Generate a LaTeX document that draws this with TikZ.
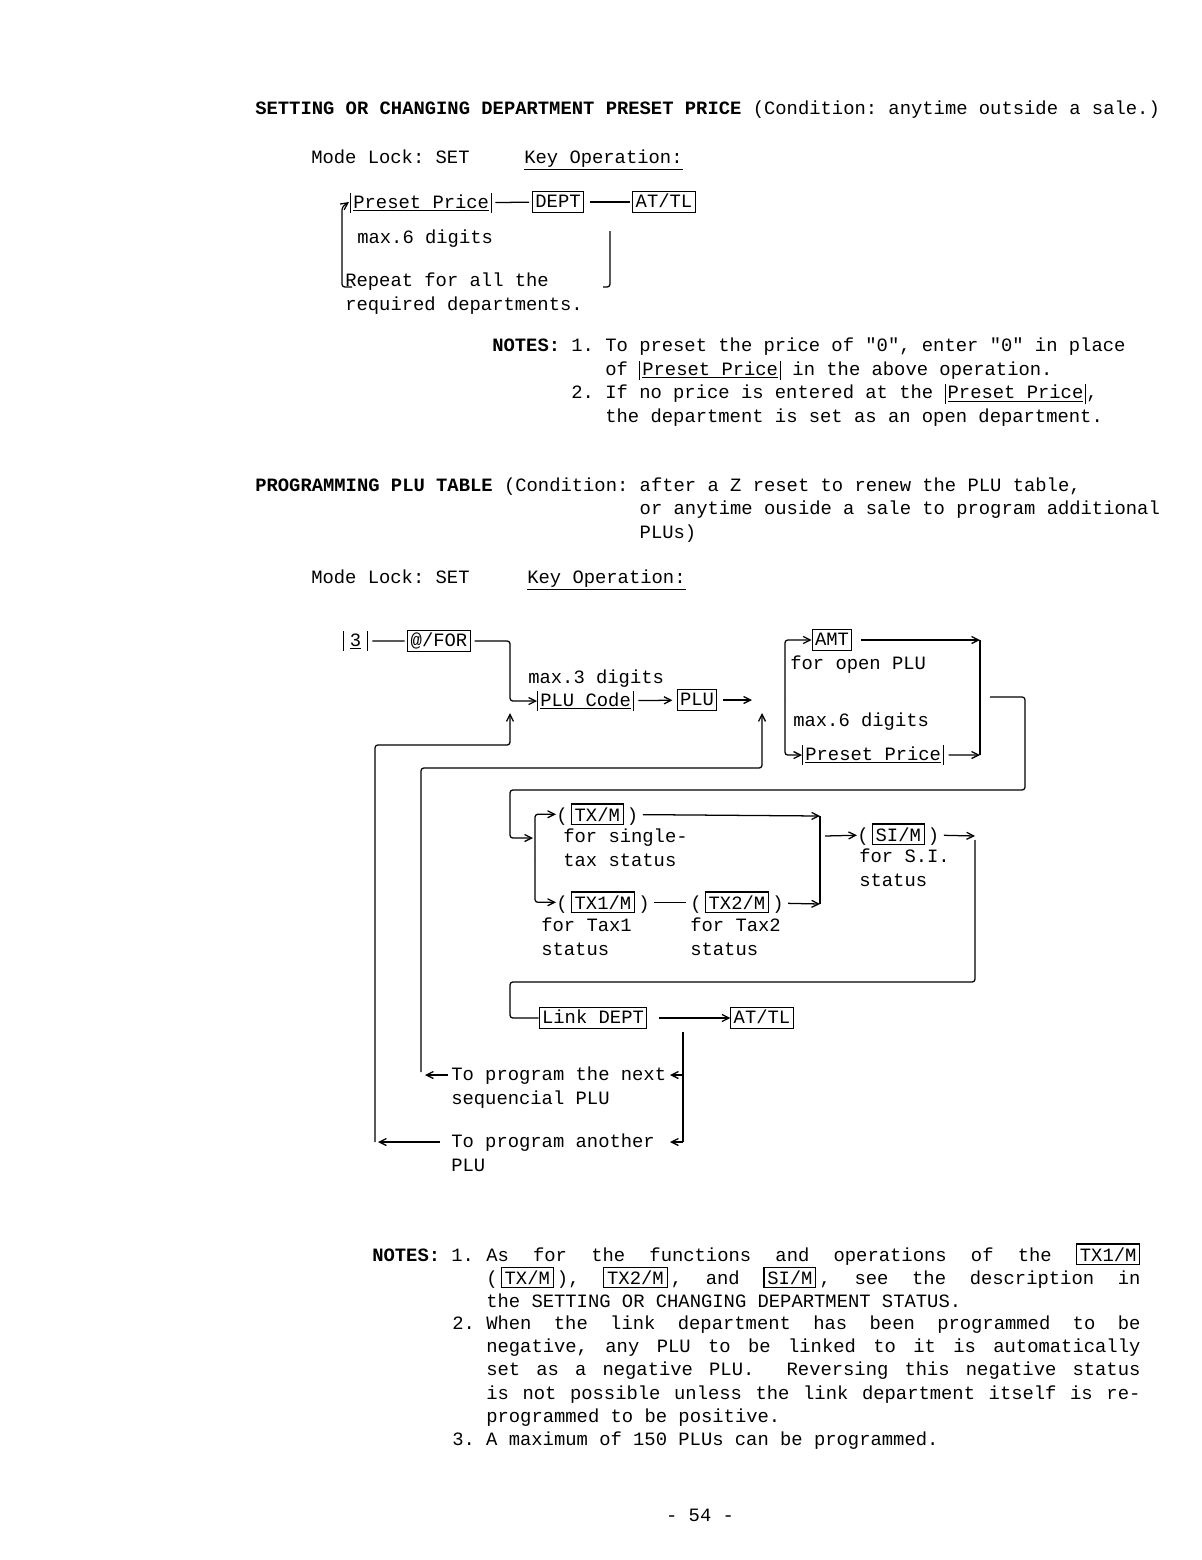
\documentclass[tikz,border=0pt]{standalone}
\usepackage{fontspec}
\setmainfont{Liberation Mono}[Ligatures=TeXOff]
\setmonofont{Liberation Mono}
\usetikzlibrary{arrows.meta,calc,positioning}
\newcommand{\numbar}{\vrule width .7pt height 10.5pt depth 3.5pt\relax}
\newcommand{\numin}[1]{\numbar\kern1.5pt\underline{#1}\kern1.5pt\numbar}
\newcommand{\keyin}[1]{{\fboxsep=2pt\fboxrule=.8pt\fbox{\vphantom{A/}#1}}}
\frenchspacing
\tikzset {
  >={Straight Barb[length=5pt,width=5pt]},
  every node/.style={font=\fontsize{13.4}{16.6}\selectfont, inner sep=0pt},
  key/.style={draw, line width=.8pt, inner xsep=2pt, inner ysep=2pt, text height=9.5pt, text depth=1.5pt},
  txt/.style={anchor=base west, align=left},
  para/.style={anchor=base west, text width=16.35cm, align=justify},
  wire/.style={line width=.9pt, rounded corners=2pt},
}

\begin{document}
\begin{tikzpicture}[x=0.025cm,y=-0.025cm]
          \useasboundingbox (0,0) rectangle (1202,1560);
          % preset price
          \node (title1) at (255,114)[txt]{\textbf{SETTING OR CHANGING DEPARTMENT PRESET PRICE} (Condition: anytime outside a sale.)};
          \node (mode1) at (311,163)[txt]{Mode Lock: SET};
          \node (keyop1) at (524,163)[txt]{\underline{Key Operation:}};
          \node (pp1) at (350,208)[txt]{\numin{Preset Price}};
          \node (dept1) at (558,202)[key]{DEPT};
          \node (attl1) at (664,202)[key]{AT/TL};
          \node (max6a) at (357,243)[txt]{max.6 digits};
          \node (repeat) at (345,310)[txt]{Repeat for all the\\required departments.};
          \coordinate (pp1in) at (349,202);
          \draw[wire,shorten <=2pt,shorten >=2pt] (pp1) -- (dept1);
          \draw[wire,shorten <=4pt,shorten >=2pt] (dept1) -- (attl1);
          \draw[wire,->] (352,287) -- (342,287) -- (342,207) -- (pp1in);
          \draw[wire] (610,231) -- (610,287) -- (603,287);
          \node (notes1) at (492,422)[txt]{\textbf{NOTES:} 1. To preset the price of "0", enter "0" in place\\\phantom{NOTES: 1. }of \numin{Preset Price} in the above operation.\\\phantom{NOTES: }2. If no price is entered at the \numin{Preset Price},\\\phantom{NOTES: 2. }the department is set as an open department.};
          % plu table
          \node (title2) at (255,538)[txt]{\textbf{PROGRAMMING PLU TABLE} (Condition: after a Z reset to renew the PLU table,\\\phantom{PROGRAMMING PLU TABLE (Condition: }or anytime ouside a sale to program additional\\\phantom{PROGRAMMING PLU TABLE (Condition: }PLUs)};
          \node (mode2) at (311,583)[txt]{Mode Lock: SET};
          \node (keyop2) at (527,583)[txt]{\underline{Key Operation:}};
          \node (three) at (343,646)[txt]{\numbar\kern4pt\underline{3}\kern4pt\numbar};
          \node (atfor) at (439,641)[key]{@/FOR};
          \node (max3) at (528,683)[txt]{max.3 digits};
          \node (plucode) at (537,706)[txt]{\numin{PLU Code}};
          \node (plukey) at (697,700)[key]{PLU};
          \coordinate (pluout) at (752,700);
          \draw[wire,shorten <=3pt,shorten >=2pt] (three) -- (atfor);
          \draw[wire,->] (atfor.east) ++(4,0) -- (510,641) -- (510,701) -- (plucode.west);
          \draw[wire,->,shorten <=3pt,shorten >=3pt] (plucode) -- (plukey);
          \draw[wire,->,shorten <=4pt] (plukey) -- (pluout);
          % amt or preset price
          \node (amt) at (832,640)[key]{AMT};
          \node (openplu) at (790,669)[txt]{for open PLU};
          \node (max6b) at (793,726)[txt]{max.6 digits};
          \node (pp2) at (802,760)[txt]{\numin{Preset Price}};
          \coordinate (split) at (785,700);
          \coordinate (amtend) at (980,640);
          \coordinate (ppend) at (980,755);
          \draw[wire,->] (split) |- (amt);
          \draw[wire,->] (split) |- (pp2);
          \draw[wire,->,shorten <=6pt] (amt) -- (amtend);
          \draw[wire,->,shorten <=3pt] (pp2) -- (ppend);
          \draw[wire] (amtend) -- (ppend);
          \coordinate (taxin) at (533,838);
          \draw[wire,->] (990,697) -- (1025,697) -- (1025,790) -- (510,790) -- (510,838) -- (taxin);
          % tax status
          \node (txm) at (556,821)[txt]{(\,\keyin{TX/M}\,)};
          \node (single) at (563,866)[txt]{for single-\\tax status};
          \node (tx1) at (556,909)[txt]{(\,\keyin{TX1/M}\,)};
          \node (tx2) at (690,909)[txt]{(\,\keyin{TX2/M}\,)};
          \node (taxone) at (541,955)[txt]{for Tax1\\status};
          \node (taxtwo) at (690,955)[txt]{for Tax2\\status};
          \coordinate (taxsplit) at (535,860);
          \coordinate (taxtop) at (820,816);
          \coordinate (taxbot) at (820,904);
          \draw[wire,->] (taxsplit) |- (txm);
          \draw[wire,->] (taxsplit) |- (tx1);
          \draw[wire,shorten <=3pt,shorten >=3pt] (tx1) -- (tx2);
          \draw[wire,->,shorten <=3pt] (txm) -- (taxtop);
          \draw[wire,->,shorten <=3pt] (tx2) -- (taxbot);
          \draw[wire] (taxtop) -- (taxbot);
          \node (si) at (857,841)[txt]{(\,\keyin{SI/M}\,)};
          \node (sitext) at (859,886)[txt]{for S.I.\\status};
          \coordinate (sifrom) at (825,836);
          \coordinate (siend) at (975,836);
          \draw[wire,->] (sifrom) -- (si);
          \draw[wire,->,shorten <=3pt] (si) -- (siend);
          % link dept
          \node (link) at (593,1018)[key]{Link DEPT};
          \node (attl2) at (762,1018)[key]{AT/TL};
          \draw[wire] (975,840) -- (975,982) -- (510,982) -- (510,1018) -- (link);
          \draw[wire,->,shorten <=8pt] (link) -- (attl2);
          \node (next) at (451,1104)[txt]{To program the next\\sequencial PLU};
          \node (another) at (451,1171)[txt]{To program another\\PLU};
          \coordinate (nextr) at (683,1075);
          \coordinate (anotherr) at (683,1142);
          \draw[wire] (683,1032) -- (anotherr);
          \draw[wire,->] (nextr) -- (670,1075);
          \draw[wire,->] (anotherr) -- (670,1142);
          \draw[wire,->] (448,1075) -- (425,1075);
          \draw[wire,->] (421,1072) -- (421,768) -- (762,768) -- (762,713);
          \draw[wire,->] (440,1142) -- (378,1142);
          \draw[wire,->] (375,1142) -- (375,745) -- (510,745) -- (510,713);
          % notes
          \node (notes2) at (372,1261)[txt]{\textbf{NOTES:} 1.};
          \node (noteone) at (486,1261)[para]{\spaceskip=.6em plus 3em
            As for the functions and operations of the \keyin{TX1/M}\linebreak
            (\,\keyin{TX/M}\,), \keyin{TX2/M}\,, and \keyin{SI/M}\,, see the description in\linebreak
            the SETTING OR CHANGING DEPARTMENT STATUS.};
          \node (num2) at (452,1329)[txt]{2.};
          \node (notetwo) at (486,1329)[para]{\spaceskip=.6em plus 3em
            When the link department has been programmed to be\linebreak
            negative, any PLU to be linked to it is automatically\linebreak
            set as a negative PLU.\ \ Reversing this negative status\linebreak
            is not possible unless the link department itself is re-\linebreak
            programmed to be positive.};
          \node (notethree) at (452,1445)[txt]{3. A maximum of 150 PLUs can be programmed.};
          \node (page) at (700,1521)[anchor=base]{- 54 -};
        \end{tikzpicture}
\end{document}
